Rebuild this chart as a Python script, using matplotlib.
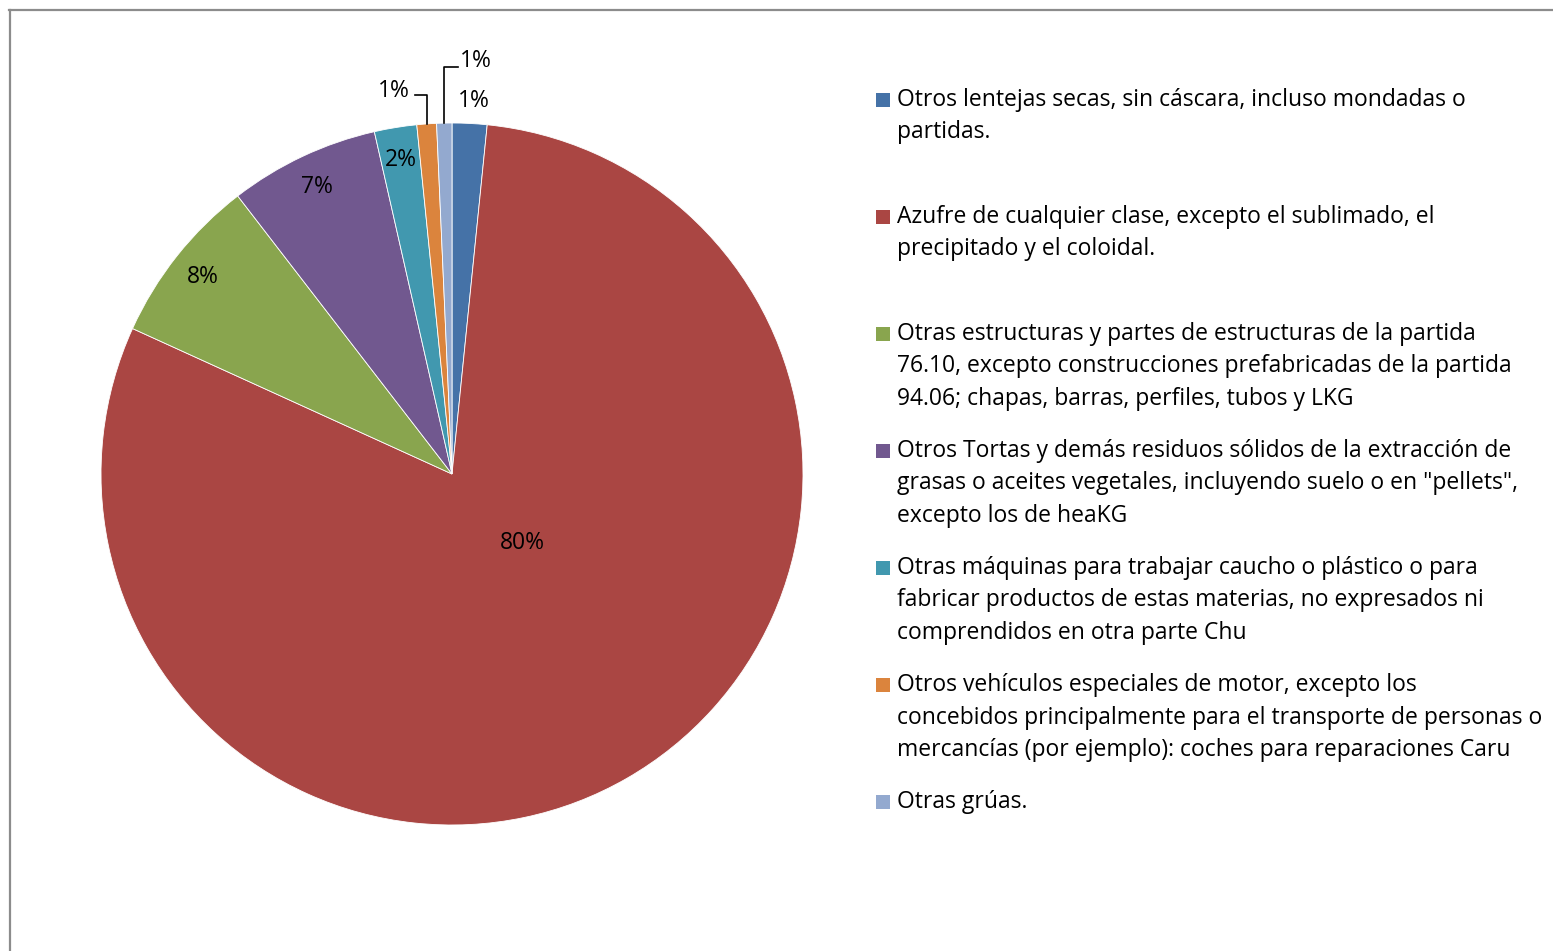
import matplotlib
matplotlib.use('Agg')
import matplotlib.pyplot as plt
import numpy as np
from matplotlib.patches import Rectangle
from matplotlib.lines import Line2D

plt.rcParams['font.family'] = ['Open Sans', 'DejaVu Sans']

# datos (porcentajes)
categorias = [
    'Otros lentejas secas, sin cáscara, incluso mondadas o\npartidas.',
    'Azufre de cualquier clase, excepto el sublimado, el\nprecipitado y el coloidal.',
    'Otras estructuras y partes de estructuras de la partida\n76.10, excepto construcciones prefabricadas de la partida\n94.06; chapas, barras, perfiles, tubos y LKG',
    'Otros Tortas y demás residuos sólidos de la extracción de\ngrasas o aceites vegetales, incluyendo suelo o en "pellets",\nexcepto los de heaKG',
    'Otras máquinas para trabajar caucho o plástico o para\nfabricar productos de estas materias, no expresados ni\ncomprendidos en otra parte Chu',
    'Otros vehículos especiales de motor, excepto los\nconcebidos principalmente para el transporte de personas o\nmercancías (por ejemplo): coches para reparaciones Caru',
    'Otras grúas.',
]
valores = [1.6, 80.2, 7.75, 6.9, 1.95, 0.9, 0.7]
etiquetas = ['1%', '80%', '8%', '7%', '2%', '1%', '1%']
colores = ['#4572A7', '#AA4643', '#89A54E', '#71588F', '#4198AF', '#DB843D', '#93A9CF']

W, H = 1553, 951
fig = plt.figure(figsize=(W / 100, H / 100), dpi=100)

# marco del gráfico
fig.add_artist(Line2D([9 / W, 1], [1 - 9.5 / H, 1 - 9.5 / H], color='#8c8c8c', lw=1.6))
fig.add_artist(Line2D([9.5 / W, 9.5 / W], [0, 1 - 9.5 / H], color='#8c8c8c', lw=1.6))

# área del pastel (centro 452,474 ; radio 351 px)
cx, cy, r = 452, 474, 351
ax = fig.add_axes([(cx - r) / W, (H - cy - r) / H, 2 * r / W, 2 * r / H])
wedges, _ = ax.pie(valores, colors=colores, startangle=90, counterclock=False,
                   wedgeprops=dict(edgecolor='white', linewidth=0.6))
ax.set_xlim(-1, 1)
ax.set_ylim(-1, 1)
ax.set_aspect('auto')
ax.axis('off')

fs = 16.5
# posición de las etiquetas (coordenadas del pastel)
pos_etq = {0: (0.063, 1.063), 1: (0.2, -0.197), 5: (-0.165, 1.09), 6: (0.068, 1.177)}
for i, w in enumerate(wedges):
    ang = np.deg2rad((w.theta1 + w.theta2) / 2)
    if i in pos_etq:
        x, y = pos_etq[i]
    else:
        x, y = 0.905 * np.cos(ang), 0.905 * np.sin(ang)
    ax.text(x, y, etiquetas[i], ha='center', va='center', fontsize=fs, color='black', clip_on=False)

# líneas guía de las etiquetas pequeñas
a5 = np.deg2rad((wedges[5].theta1 + wedges[5].theta2) / 2)
x5 = np.cos(a5)
ax.plot([-0.105, x5, x5], [1.08, 1.08, np.sin(a5)], color='black', lw=1.2, clip_on=False)
a6 = np.deg2rad((wedges[6].theta1 + wedges[6].theta2) / 2)
x6 = np.cos(a6)
ax.plot([x6, x6, 0.017], [np.sin(a6), 1.16, 1.16], color='black', lw=1.2, clip_on=False)

# leyenda
y0, paso, lin = 100, 117, 32.5
for i, (cat, col) in enumerate(zip(categorias, colores)):
    yy = y0 + i * paso
    fig.add_artist(Rectangle((876 / W, 1 - (yy + 7) / H), 14 / W, 14 / H,
                             facecolor=col, edgecolor='none'))
    for j, linea in enumerate(cat.split('\n')):
        fig.text(897 / W, 1 - (yy + j * lin) / H, linea, ha='left', va='center',
                 fontsize=fs, color='black')

fig.savefig('out.png', dpi=100)
